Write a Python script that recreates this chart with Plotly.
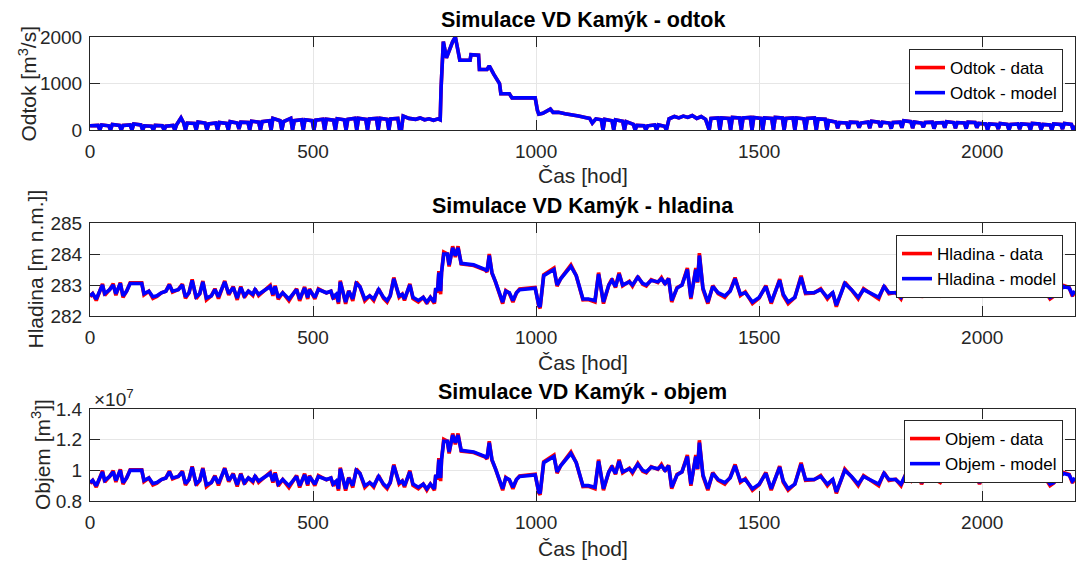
import plotly.graph_objects as go

# ---------------- Odtok (outflow) [m3/s] ----------------
cas_odtok = [
    0, 2, 18, 22, 26, 42, 46, 50, 66, 70,
    74, 90, 94, 98, 114, 118, 122, 138, 142, 146,
    162, 166, 170, 186, 190, 194, 204, 210, 214, 218,
    234, 238, 242, 258, 262, 266, 282, 286, 290, 306,
    310, 314, 330, 334, 338, 354, 358, 362, 378, 382,
    386, 402, 406, 410, 426, 430, 434, 450, 454, 458,
    474, 478, 482, 498, 502, 506, 522, 526, 530, 546,
    550, 554, 570, 574, 578, 594, 598, 602, 618, 622,
    626, 642, 646, 650, 666, 670, 674, 690, 694, 698,
    702, 715, 730, 740, 750, 760, 770, 780, 785, 787,
    792, 799, 808, 813, 819, 823, 829, 852, 854, 871,
    873, 890, 895, 905, 913, 918, 921, 940, 946, 998,
    1003, 1006, 1015, 1025, 1032, 1038, 1050, 1065, 1080, 1095,
    1110, 1120, 1126, 1134, 1146, 1150, 1154, 1170, 1174, 1178,
    1194, 1198, 1202, 1218, 1222, 1226, 1242, 1246, 1250, 1266,
    1270, 1274, 1288, 1292, 1298, 1310, 1320, 1330, 1340, 1350,
    1360, 1370, 1380, 1388, 1392, 1408, 1412, 1416, 1432, 1436,
    1440, 1456, 1460, 1464, 1480, 1484, 1488, 1504, 1508, 1512,
    1528, 1532, 1536, 1552, 1556, 1560, 1576, 1580, 1584, 1600,
    1604, 1608, 1624, 1628, 1632, 1648, 1652, 1656, 1672, 1676,
    1680, 1696, 1700, 1704, 1720, 1724, 1728, 1744, 1748, 1752,
    1768, 1772, 1776, 1792, 1796, 1800, 1816, 1820, 1824, 1840,
    1844, 1848, 1864, 1868, 1872, 1888, 1892, 1896, 1912, 1916,
    1920, 1936, 1940, 1944, 1960, 1964, 1968, 1984, 1988, 1992,
    2008, 2012, 2016, 2032, 2036, 2040, 2056, 2060, 2064, 2080,
    2084, 2088, 2104, 2108, 2112, 2128, 2132, 2136, 2152, 2156,
    2160, 2176, 2180, 2184, 2200, 2204, 2208,
]
odtok_data = [
    90, 90, 100, 0, 110, 90, 0, 120, 100, 0,
    100, 110, 0, 130, 110, 0, 90, 80, 0, 100,
    90, 0, 80, 100, 0, 110, 260, 150, 0, 150,
    140, 0, 170, 150, 0, 130, 150, 0, 160, 140,
    0, 180, 150, 20, 170, 160, 0, 190, 170, 0,
    180, 200, 0, 250, 200, 0, 180, 250, 0, 200,
    220, 0, 220, 200, 0, 210, 230, 0, 230, 210,
    0, 240, 220, 0, 230, 250, 0, 250, 230, 0,
    240, 250, 0, 250, 230, 0, 240, 250, 0, 0,
    300, 250, 230, 260, 220, 240, 210, 240, 220, 900,
    1900, 1550, 1800, 1900, 2000, 1800, 1500, 1500, 1620, 1610,
    1300, 1300, 1380, 1200, 1080, 1000, 780, 780, 690, 690,
    420, 340, 360, 410, 450, 380, 380, 350, 330, 300,
    270, 250, 150, 240, 220, 0, 230, 200, 0, 220,
    190, 0, 180, 120, 0, 100, 90, 0, 90, 110,
    0, 110, 80, 0, 240, 290, 260, 300, 270, 310,
    250, 290, 230, 0, 250, 260, 0, 260, 250, 0,
    270, 260, 0, 260, 270, 0, 270, 250, 0, 260,
    250, 0, 270, 260, 0, 250, 260, 0, 260, 240,
    0, 250, 260, 0, 240, 230, 0, 200, 170, 40,
    160, 150, 30, 170, 160, 50, 150, 170, 40, 190,
    170, 60, 170, 150, 30, 160, 170, 50, 200, 180,
    40, 170, 150, 60, 160, 170, 30, 150, 160, 50,
    180, 160, 40, 160, 150, 30, 170, 160, 50, 140,
    130, 0, 130, 120, 20, 140, 120, 0, 120, 130,
    20, 130, 120, 0, 140, 130, 10, 120, 110, 0,
    130, 120, 20, 140, 120, 0, 90,
]
odtok_model = [
    90, 90, 100, 0, 110, 90, 0, 120, 100, 0,
    100, 110, 0, 130, 110, 0, 90, 80, 0, 100,
    90, 0, 80, 100, 0, 110, 260, 150, 0, 150,
    140, 0, 170, 150, 0, 130, 150, 0, 160, 140,
    0, 180, 150, 20, 170, 160, 0, 190, 170, 0,
    180, 200, 0, 250, 200, 0, 180, 250, 0, 200,
    220, 0, 220, 200, 0, 210, 230, 0, 230, 210,
    0, 240, 220, 0, 230, 250, 0, 250, 230, 0,
    240, 250, 0, 250, 230, 0, 240, 250, 0, 0,
    300, 250, 230, 260, 220, 240, 210, 240, 220, 900,
    1900, 1550, 1800, 1900, 2000, 1800, 1500, 1500, 1620, 1610,
    1300, 1300, 1380, 1200, 1080, 1000, 780, 780, 690, 690,
    420, 340, 360, 410, 450, 380, 380, 350, 330, 300,
    270, 250, 150, 240, 220, 0, 230, 200, 0, 220,
    190, 0, 180, 120, 0, 100, 90, 0, 90, 110,
    0, 110, 80, 0, 240, 290, 260, 300, 270, 310,
    250, 290, 230, 0, 250, 260, 0, 260, 250, 0,
    270, 260, 0, 260, 270, 0, 270, 250, 0, 260,
    250, 0, 270, 260, 0, 250, 260, 0, 260, 240,
    0, 250, 260, 0, 240, 230, 0, 200, 170, 40,
    160, 150, 30, 170, 160, 50, 150, 170, 40, 190,
    170, 60, 170, 150, 30, 160, 170, 50, 200, 180,
    40, 170, 150, 60, 160, 170, 30, 150, 160, 50,
    180, 160, 40, 160, 150, 30, 170, 160, 50, 140,
    130, 0, 130, 120, 20, 140, 120, 0, 120, 130,
    20, 130, 120, 0, 140, 130, 10, 120, 110, 0,
    130, 120, 20, 140, 120, 0, 90,
]

# ---------------- Hladina (level) [m n.m.] and Objem (volume) [1e7 m3] ----------------
cas_hladina = [
    0, 6, 14, 22, 28, 33, 44, 52, 58, 68,
    74, 82, 90, 116, 121, 132, 141, 150, 160, 170,
    178, 185, 198, 207, 214, 222, 229, 238, 246, 253,
    261, 272, 280, 288, 302, 311, 321, 330, 338, 346,
    355, 365, 370, 378, 390, 404, 410, 415, 422, 432,
    446, 463, 470, 481, 488, 492, 504, 512, 530, 540,
    545, 552, 557, 561, 573, 580, 589, 597, 605, 616,
    627, 636, 647, 658, 666, 673, 681, 693, 700, 705,
    717, 724, 736, 747, 755, 763, 772, 775, 779, 782,
    786, 788, 793, 801, 805, 813, 819, 825, 832, 860,
    886, 890, 895, 901, 909, 921, 925, 932, 940, 948,
    956, 963, 986, 998, 1006, 1009, 1017, 1032, 1040, 1047,
    1055, 1078, 1090, 1105, 1117, 1132, 1140, 1151, 1163, 1170,
    1178, 1186, 1194, 1209, 1216, 1228, 1239, 1247, 1258, 1273,
    1281, 1289, 1297, 1304, 1316, 1327, 1339, 1347, 1358, 1362,
    1366, 1374, 1385, 1396, 1408, 1423, 1435, 1446, 1458, 1469,
    1485, 1500, 1515, 1527, 1546, 1554, 1565, 1580, 1594, 1604,
    1623, 1638, 1653, 1665, 1673, 1684, 1692, 1707, 1722, 1734,
    1749, 1768, 1780, 1791, 1806, 1818, 1830, 1841, 1853, 1864,
    1876, 1891, 1906, 1918, 1929, 1941, 1952, 1968, 1983, 1994,
    2006, 2022, 2037, 2052, 2068, 2083, 2098, 2114, 2129, 2140,
    2152, 2160, 2171, 2183, 2195, 2202, 2208,
]
hladina_data = [
    282.62, 282.72, 282.50, 282.80, 283.04, 282.67, 282.85, 283.04, 282.67, 283.08,
    282.60, 282.80, 283.07, 283.07, 282.68, 282.80, 282.57, 282.63, 282.75, 282.80,
    283.03, 282.77, 282.85, 283.03, 282.57, 282.75, 283.18, 282.56, 282.72, 283.13,
    282.52, 282.65, 282.88, 282.56, 283.13, 282.68, 282.95, 282.52, 282.95, 282.60,
    282.80, 282.66, 282.88, 282.66, 282.80, 282.99, 282.65, 282.98, 282.54, 282.75,
    282.49, 282.88, 282.49, 282.94, 282.55, 282.88, 282.55, 282.88, 282.74, 282.80,
    282.55, 282.70, 282.39, 283.14, 282.39, 282.82, 282.49, 283.10, 282.95, 282.49,
    282.65, 282.50, 282.88, 282.57, 282.45, 282.65, 283.24, 282.60, 282.70, 282.50,
    283.04, 282.56, 282.45, 282.60, 282.40, 282.60, 282.40, 282.90, 282.75, 283.45,
    282.70, 283.40, 284.06, 284.00, 283.60, 284.25, 283.90, 284.25, 283.68, 283.63,
    283.48, 283.42, 284.00, 283.38, 283.10, 282.58, 282.40, 282.82, 282.73, 282.45,
    282.75, 282.87, 282.90, 282.92, 282.32, 282.25, 283.33, 283.48, 283.55, 282.96,
    283.20, 283.65, 283.30, 282.52, 282.53, 282.45, 283.40, 282.40, 283.00, 283.20,
    282.92, 283.40, 282.97, 283.12, 282.96, 283.28, 283.02, 282.97, 283.17, 283.08,
    283.24, 283.02, 283.22, 282.45, 282.92, 283.00, 283.55, 282.55, 283.55, 283.08,
    284.03, 282.86, 282.40, 282.98, 282.72, 282.60, 282.82, 283.24, 282.66, 282.78,
    282.40, 282.58, 282.98, 282.40, 283.19, 282.66, 282.40, 282.60, 283.30, 282.72,
    282.74, 282.88, 282.55, 282.76, 282.30, 282.75, 283.09, 282.84, 282.55, 282.88,
    282.73, 282.55, 282.98, 282.72, 282.76, 282.55, 282.98, 282.72, 283.04, 282.60,
    282.98, 282.78, 282.65, 282.93, 282.82, 283.08, 282.82, 282.72, 282.98, 282.60,
    283.04, 283.13, 282.98, 282.86, 283.03, 282.80, 282.98, 282.87, 282.92, 282.82,
    282.55, 282.63, 282.80, 282.98, 282.92, 282.64, 282.78,
]
hladina_model = [
    282.65, 282.72, 282.55, 282.80, 283.00, 282.72, 282.85, 283.00, 282.72, 283.05,
    282.65, 282.80, 283.05, 283.05, 282.72, 282.80, 282.62, 282.65, 282.75, 282.80,
    283.00, 282.80, 282.85, 283.00, 282.62, 282.75, 283.15, 282.62, 282.72, 283.10,
    282.58, 282.65, 282.85, 282.62, 283.10, 282.72, 282.92, 282.58, 282.92, 282.65,
    282.80, 282.70, 282.85, 282.70, 282.80, 282.95, 282.70, 282.95, 282.60, 282.75,
    282.55, 282.85, 282.55, 282.90, 282.60, 282.85, 282.60, 282.85, 282.75, 282.80,
    282.60, 282.70, 282.45, 283.10, 282.45, 282.80, 282.55, 283.05, 282.95, 282.55,
    282.65, 282.55, 282.85, 282.60, 282.50, 282.65, 283.20, 282.65, 282.70, 282.55,
    283.00, 282.60, 282.50, 282.60, 282.45, 282.60, 282.45, 282.90, 282.80, 283.40,
    282.80, 283.40, 284.00, 284.00, 283.65, 284.20, 283.95, 284.20, 283.70, 283.65,
    283.50, 283.45, 283.95, 283.40, 283.10, 282.60, 282.45, 282.80, 282.75, 282.50,
    282.75, 282.85, 282.90, 282.90, 282.35, 282.30, 283.30, 283.45, 283.50, 283.00,
    283.20, 283.60, 283.30, 282.55, 282.55, 282.50, 283.35, 282.45, 283.00, 283.15,
    282.95, 283.35, 283.00, 283.10, 283.00, 283.25, 283.05, 283.00, 283.15, 283.10,
    283.20, 283.05, 283.20, 282.50, 282.90, 283.00, 283.50, 282.60, 283.50, 283.10,
    283.95, 282.90, 282.45, 282.95, 282.75, 282.65, 282.80, 283.20, 282.70, 282.75,
    282.45, 282.60, 282.95, 282.45, 283.15, 282.70, 282.45, 282.60, 283.25, 282.75,
    282.75, 282.85, 282.60, 282.75, 282.35, 282.75, 283.05, 282.85, 282.60, 282.85,
    282.75, 282.60, 282.95, 282.75, 282.75, 282.60, 282.95, 282.75, 283.00, 282.65,
    282.95, 282.80, 282.70, 282.90, 282.85, 283.05, 282.85, 282.75, 282.95, 282.65,
    283.00, 283.10, 283.00, 282.90, 283.00, 282.85, 282.95, 282.90, 282.90, 282.85,
    282.60, 282.65, 282.80, 282.95, 282.90, 282.70, 282.80,
]
objem_data = [
    0.914, 0.934, 0.890, 0.950, 0.998, 0.924, 0.960, 0.998, 0.924, 1.006,
    0.910, 0.950, 1.004, 1.004, 0.926, 0.950, 0.904, 0.916, 0.940, 0.950,
    0.996, 0.944, 0.960, 0.996, 0.904, 0.940, 1.026, 0.902, 0.934, 1.016,
    0.894, 0.920, 0.966, 0.902, 1.016, 0.926, 0.980, 0.894, 0.980, 0.910,
    0.950, 0.922, 0.966, 0.922, 0.950, 0.988, 0.920, 0.986, 0.898, 0.940,
    0.888, 0.966, 0.888, 0.978, 0.900, 0.966, 0.900, 0.966, 0.938, 0.950,
    0.900, 0.930, 0.868, 1.018, 0.868, 0.954, 0.888, 1.010, 0.980, 0.888,
    0.920, 0.890, 0.966, 0.904, 0.880, 0.920, 1.038, 0.910, 0.930, 0.890,
    0.998, 0.902, 0.880, 0.910, 0.870, 0.910, 0.870, 0.970, 0.940, 1.080,
    0.930, 1.070, 1.202, 1.190, 1.110, 1.240, 1.170, 1.240, 1.126, 1.116,
    1.086, 1.074, 1.190, 1.066, 1.010, 0.906, 0.870, 0.954, 0.936, 0.880,
    0.940, 0.964, 0.970, 0.974, 0.854, 0.840, 1.056, 1.086, 1.100, 0.982,
    1.030, 1.120, 1.050, 0.894, 0.896, 0.880, 1.070, 0.870, 0.990, 1.030,
    0.974, 1.070, 0.984, 1.014, 0.982, 1.046, 0.994, 0.984, 1.024, 1.006,
    1.038, 0.994, 1.034, 0.880, 0.974, 0.990, 1.100, 0.900, 1.100, 1.006,
    1.196, 0.962, 0.870, 0.986, 0.934, 0.910, 0.954, 1.038, 0.922, 0.946,
    0.870, 0.906, 0.986, 0.870, 1.028, 0.922, 0.870, 0.910, 1.050, 0.934,
    0.938, 0.966, 0.900, 0.942, 0.850, 0.940, 1.008, 0.958, 0.900, 0.966,
    0.936, 0.900, 0.986, 0.934, 0.942, 0.900, 0.986, 0.934, 0.998, 0.910,
    0.986, 0.946, 0.920, 0.976, 0.954, 1.006, 0.954, 0.934, 0.986, 0.910,
    0.998, 1.016, 0.986, 0.962, 0.996, 0.950, 0.986, 0.964, 0.974, 0.954,
    0.900, 0.916, 0.950, 0.986, 0.974, 0.918, 0.946,
]
objem_model = [
    0.920, 0.934, 0.900, 0.950, 0.990, 0.934, 0.960, 0.990, 0.934, 1.000,
    0.920, 0.950, 1.000, 1.000, 0.934, 0.950, 0.914, 0.920, 0.940, 0.950,
    0.990, 0.950, 0.960, 0.990, 0.914, 0.940, 1.020, 0.914, 0.934, 1.010,
    0.906, 0.920, 0.960, 0.914, 1.010, 0.934, 0.974, 0.906, 0.974, 0.920,
    0.950, 0.930, 0.960, 0.930, 0.950, 0.980, 0.930, 0.980, 0.910, 0.940,
    0.900, 0.960, 0.900, 0.970, 0.910, 0.960, 0.910, 0.960, 0.940, 0.950,
    0.910, 0.930, 0.880, 1.010, 0.880, 0.950, 0.900, 1.000, 0.980, 0.900,
    0.920, 0.900, 0.960, 0.910, 0.890, 0.920, 1.030, 0.920, 0.930, 0.900,
    0.990, 0.910, 0.890, 0.910, 0.880, 0.910, 0.880, 0.970, 0.950, 1.070,
    0.950, 1.070, 1.190, 1.190, 1.120, 1.230, 1.180, 1.230, 1.130, 1.120,
    1.090, 1.080, 1.180, 1.070, 1.010, 0.910, 0.880, 0.950, 0.940, 0.890,
    0.940, 0.960, 0.970, 0.970, 0.860, 0.850, 1.050, 1.080, 1.090, 0.990,
    1.030, 1.110, 1.050, 0.900, 0.900, 0.890, 1.060, 0.880, 0.990, 1.020,
    0.980, 1.060, 0.990, 1.010, 0.990, 1.040, 1.000, 0.990, 1.020, 1.010,
    1.030, 1.000, 1.030, 0.890, 0.970, 0.990, 1.090, 0.910, 1.090, 1.010,
    1.180, 0.970, 0.880, 0.980, 0.940, 0.920, 0.950, 1.030, 0.930, 0.940,
    0.880, 0.910, 0.980, 0.880, 1.020, 0.930, 0.880, 0.910, 1.040, 0.940,
    0.940, 0.960, 0.910, 0.940, 0.860, 0.940, 1.000, 0.960, 0.910, 0.960,
    0.940, 0.910, 0.980, 0.940, 0.940, 0.910, 0.980, 0.940, 0.990, 0.920,
    0.980, 0.950, 0.930, 0.970, 0.960, 1.000, 0.960, 0.940, 0.980, 0.920,
    0.990, 1.010, 0.990, 0.970, 0.990, 0.960, 0.980, 0.970, 0.970, 0.960,
    0.910, 0.920, 0.950, 0.980, 0.970, 0.930, 0.950,
]

x_ticks = [0, 500, 1000, 1500, 2000]
odtok_ticks = [0, 1000, 2000]
hladina_ticks = [282, 283, 284, 285]
objem_ticks = [0.8, 1.0, 1.2, 1.4]
objem_ticktext = ["0.8", "1", "1.2", "1.4"]

FONT = "Liberation Sans, Arial, Helvetica, sans-serif"
AX_COLOR = "#262626"
GRID = "#e6e6e6"
RED = "#ff0000"
BLUE = "#0000ff"
LW = 3.6

fig = go.Figure()

panels = [
    ("", "y", "legend", cas_odtok, odtok_data, odtok_model, "Odtok - data", "Odtok - model"),
    ("2", "y2", "legend2", cas_hladina, hladina_data, hladina_model, "Hladina - data", "Hladina - model"),
    ("3", "y3", "legend3", cas_hladina, objem_data, objem_model, "Objem - data", "Objem - model"),
]
for suf, yref, leg, t, d, m, nd, nm in panels:
    fig.add_trace(go.Scatter(x=t, y=d, mode="lines", name=nd, xaxis="x" + suf, yaxis=yref,
                             legend=leg, line=dict(color=RED, width=LW)))
    fig.add_trace(go.Scatter(x=t, y=m, mode="lines", name=nm, xaxis="x" + suf, yaxis=yref,
                             legend=leg, line=dict(color=BLUE, width=LW)))

common = dict(
    showline=True, linecolor=AX_COLOR, linewidth=1, mirror="ticks",
    ticks="inside", ticklen=10, tickwidth=1, tickcolor=AX_COLOR,
    showgrid=True, gridcolor=GRID, gridwidth=1, zeroline=False,
    tickfont=dict(family=FONT, size=19, color=AX_COLOR),
)

# plot area: l=90, r=2, t=37, b=62  -> 985 x 464 px
H = 464.0
def py(px):
    return (501.0 - px) / H

doms = [(py(130), 1.0), (py(316), py(223)), (0.0, py(409))]

layout = dict(
    width=1077, height=563,
    margin=dict(l=90, r=2, t=37, b=62, pad=0),
    paper_bgcolor="white", plot_bgcolor="white",
    showlegend=True,
    font=dict(family=FONT, color=AX_COLOR),
)
yranges = [[0, 2000], [282, 285], [0.8, 1.4]]
yticks = [(odtok_ticks, None), (hladina_ticks, None), (objem_ticks, objem_ticktext)]
for i, suf in enumerate(["", "2", "3"]):
    layout["xaxis" + suf] = dict(common, domain=[0, 1], range=[0, 2208], tickvals=x_ticks,
                                 anchor="y" + suf, ticklabelstandoff=4)
    yd = dict(common, domain=list(doms[i]), range=yranges[i], tickvals=yticks[i][0],
              anchor="x" + suf, ticklabelstandoff=3)
    if yticks[i][1] is not None:
        yd["ticktext"] = yticks[i][1]
    layout["yaxis" + suf] = yd

leg_common = dict(
    xref="paper", yref="paper", xanchor="right", yanchor="top",
    bgcolor="white", bordercolor=AX_COLOR, borderwidth=1,
    font=dict(family=FONT, size=17, color="black"),
    tracegroupgap=0,
)
layout["legend"] = dict(leg_common, x=(1063 - 90) / 985, y=py(49))
layout["legend2"] = dict(leg_common, x=(1063 - 90) / 985, y=py(235))
layout["legend3"] = dict(leg_common, x=(1063 - 90) / 985, y=py(420))

fig.update_layout(**layout)

titles = ["Simulace VD Kamýk - odtok", "Simulace VD Kamýk - hladina", "Simulace VD Kamýk - objem"]
title_y = [20, 206, 392]
xlab_y = [176, 362, 548]
ylabels = ["Odtok [m<sup>3</sup>/s]", "Hladina [m n.m.]]", "Objem [m<sup>3</sup>]]"]
ylab_x = [27, 35, 41]
ylab_y = [83.5, 269.5, 455]

ann = []
for i in range(3):
    ann.append(dict(text="<b>" + titles[i] + "</b>", x=0.5, y=py(title_y[i]), xref="paper", yref="paper",
                    xanchor="center", yanchor="middle", showarrow=False,
                    font=dict(family=FONT, size=21.5, color="black")))
    ann.append(dict(text="Čas [hod]", x=0.5, y=py(xlab_y[i]), xref="paper", yref="paper",
                    xanchor="center", yanchor="middle", showarrow=False,
                    font=dict(family=FONT, size=21, color=AX_COLOR)))
    ann.append(dict(text=ylabels[i], x=(ylab_x[i] - 90) / 985, y=py(ylab_y[i]), xref="paper", yref="paper",
                    xanchor="center", yanchor="middle", textangle=-90, showarrow=False,
                    font=dict(family=FONT, size=21, color=AX_COLOR)))
ann.append(dict(text="×10<sup>7</sup>", x=(92 - 90) / 985, y=py(398), xref="paper", yref="paper",
                xanchor="left", yanchor="middle", showarrow=False,
                font=dict(family=FONT, size=19, color=AX_COLOR)))
fig.update_layout(annotations=ann)

fig.write_html("out.html")
